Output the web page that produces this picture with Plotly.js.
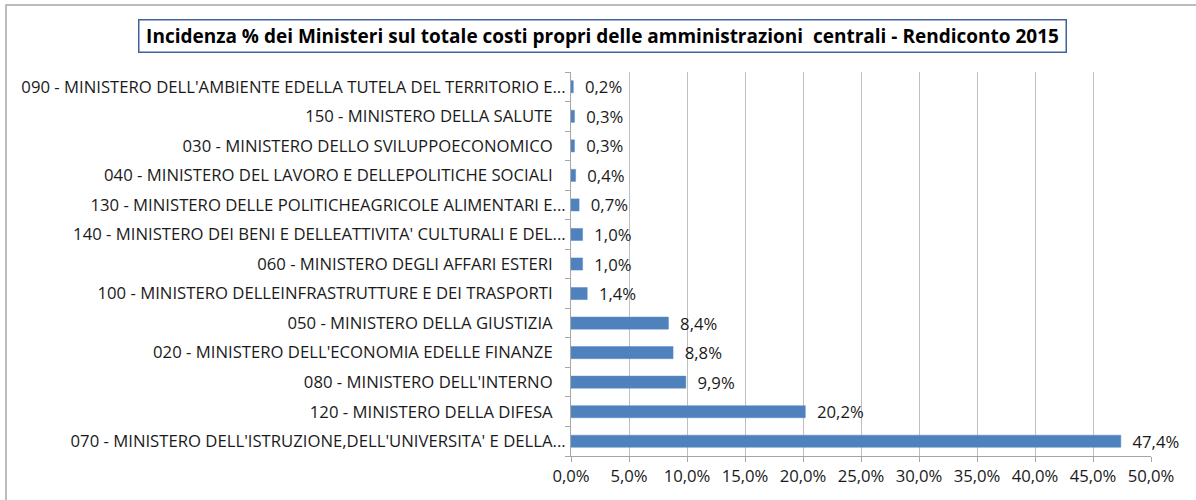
<!DOCTYPE html>
<html>
<head>
<meta charset="utf-8">
<script src="https://cdn.plot.ly/plotly-3.0.1.min.js"></script>
<style>html,body{margin:0;padding:0;background:#fff;}#chart{width:1196px;height:500px;}</style>
</head>
<body>
<div id="chart"></div>
<script>
// Categories listed bottom-to-top (Plotly category axis draws first at bottom)
const categories = [
  "070 - MINISTERO DELL'ISTRUZIONE,DELL'UNIVERSITA' E DELLA...",
  "120 - MINISTERO DELLA DIFESA",
  "080 - MINISTERO DELL'INTERNO",
  "020 - MINISTERO DELL'ECONOMIA EDELLE FINANZE",
  "050 - MINISTERO DELLA GIUSTIZIA",
  "100 - MINISTERO DELLEINFRASTRUTTURE E DEI TRASPORTI",
  "060 - MINISTERO DEGLI AFFARI ESTERI",
  "140 - MINISTERO DEI BENI E DELLEATTIVITA' CULTURALI E DEL...",
  "130 - MINISTERO DELLE POLITICHEAGRICOLE ALIMENTARI E...",
  "040 - MINISTERO DEL LAVORO E DELLEPOLITICHE SOCIALI",
  "030 - MINISTERO DELLO SVILUPPOECONOMICO",
  "150 - MINISTERO DELLA SALUTE",
  "090 - MINISTERO DELL'AMBIENTE EDELLA TUTELA DEL TERRITORIO E..."
];
const values = [47.4, 20.2, 9.9, 8.8, 8.4, 1.4, 1.0, 1.0, 0.7, 0.4, 0.3, 0.3, 0.2];
const xTicks = [0, 5, 10, 15, 20, 25, 30, 35, 40, 45, 50];
const titleText = "Incidenza % dei Ministeri sul totale costi propri delle amministrazioni  centrali - Rendiconto 2015";

const FONT = "'Open Sans', 'DejaVu Sans', sans-serif";
const FS = 16.7;
const TXT = '#1a1a1a';
const L = 571, R = 1196 - 1151, T = 72, B = 500 - 456;
const W = 1196 - L - R, H = 500 - T - B;
const px = v => (v - L) / W;
const py = v => (500 - B - v) / H;

const trace = {
  type: 'bar',
  orientation: 'h',
  y: categories,
  x: values,
  marker: {color: '#4f81bd', line: {color: '#5b8cc9', width: 0.5}},
  texttemplate: '\u00a0\u00a0%{x:.1f}%',
  textposition: 'outside',
  constraintext: 'none',
  cliponaxis: false,
  textfont: {family: FONT, size: FS, color: TXT},
  hoverinfo: 'none'
};

const layout = {
  width: 1196, height: 500,
  margin: {l: L, r: R, t: T, b: B, pad: 0},
  paper_bgcolor: '#ffffff',
  plot_bgcolor: '#ffffff',
  separators: ',.',
  showlegend: false,
  bargap: 0.59,
  font: {family: FONT, size: FS, color: TXT},
  xaxis: {
    range: [0, 50],
    tickvals: xTicks,
    ticktext: xTicks.map(v => v.toFixed(1).replace('.', ',') + '%'),
    showgrid: true,
    gridcolor: '#bfbfbf',
    gridwidth: 1,
    zeroline: false,
    showline: true,
    linecolor: '#a6a6a6',
    ticks: 'outside',
    ticklen: 5,
    tickcolor: '#a6a6a6',
    tickfont: {family: FONT, size: FS, color: TXT},
    fixedrange: true
  },
  yaxis: {
    type: 'category',
    categoryorder: 'array',
    categoryarray: categories,
    tickvals: categories,
    ticktext: categories.map(c => c.endsWith('...') ? c : c + '\u00a0\u00a0\u00a0'),
    showline: true,
    linecolor: '#a6a6a6',
    ticks: 'outside',
    tickson: 'boundaries',
    ticklen: 5,
    tickcolor: '#a6a6a6',
    showgrid: false,
    tickfont: {family: FONT, size: FS, color: TXT},
    ticklabelstandoff: 1,
    automargin: false,
    fixedrange: true
  },
  annotations: [{
    text: '<b>' + titleText + '</b>',
    xref: 'paper', yref: 'paper',
    x: px(602), y: py(36),
    xanchor: 'center', yanchor: 'middle',
    showarrow: false,
    font: {family: FONT, size: 19, color: '#000000'},
    width: 922,
    height: 27,
    bordercolor: '#3f6398',
    borderwidth: 1.5,
    borderpad: 2,
    bgcolor: '#ffffff'
  }],
  shapes: [{
    type: 'rect', xref: 'paper', yref: 'paper',
    x0: px(6), x1: px(1210), y0: py(520), y1: py(5),
    line: {color: '#a6a6a6', width: 1.5},
    fillcolor: 'rgba(0,0,0,0)', layer: 'below'
  }]
};

Plotly.newPlot('chart', [trace], layout, {displayModeBar: false, staticPlot: true});
</script>
</body>
</html>
